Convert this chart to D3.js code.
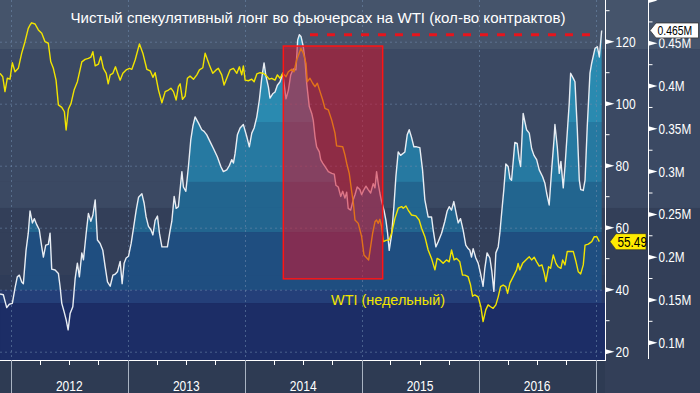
<!DOCTYPE html>
<html><head><meta charset="utf-8">
<script src="https://cdn.jsdelivr.net/npm/d3@7"></script>
<style>html,body{margin:0;padding:0;background:#2e3b53;}svg{display:block}</style>
</head><body><svg id="c" width="700" height="393"></svg>
<script>
// ---------- data ----------
const title = "Чистый спекулятивный лонг во фьючерсах на WTI (кол-во контрактов)";
const seriesLabel = "WTI (недельный)";
const years = [2012, 2013, 2014, 2015, 2016];
const wtiTicks = [20, 40, 60, 80, 100, 120];
const wtiMinor = [30, 50, 70, 90, 110, 130];
const posTicks = [0.1, 0.15, 0.2, 0.25, 0.3, 0.35, 0.4, 0.45, 0.5];
const posMinor = [0.125, 0.175, 0.225, 0.275, 0.325, 0.375, 0.425, 0.475];

// WTI weekly price (decimal-year dates)
const wtiT = [2011.909,2011.932,2011.951,2011.971,2011.994,2012.014,2012.037,2012.065,2012.094,2012.122,2012.150,2012.165,2012.179,2012.208,2012.236,2012.265,2012.293,2012.321,2012.342,2012.364,2012.387,2012.407,2012.436,2012.458,2012.473,2012.492,2012.515,2012.541,2012.569,2012.607,2012.635,2012.663,2012.684,2012.701,2012.721,2012.749,2012.769,2012.791,2012.815,2012.832,2012.849,2012.872,2012.894,2012.911,2012.934,2012.957,2012.985,2013.014,2013.034,2013.062,2013.099,2013.128,2013.162,2013.191,2013.214,2013.233,2013.262,2013.291,2013.319,2013.347,2013.368,2013.390,2013.413,2013.432,2013.447,2013.467,2013.490,2013.509,2013.532,2013.561,2013.590,2013.612,2013.641,2013.661,2013.697,2013.726,2013.755,2013.774,2013.803,2013.823,2013.851,2013.874,2013.903,2013.932,2013.954,2013.974,2013.988,2014.003,2014.031,2014.060,2014.080,2014.103,2014.131,2014.159,2014.188,2014.210,2014.231,2014.259,2014.279,2014.302,2014.325,2014.353,2014.373,2014.402,2014.421,2014.444,2014.481,2014.501,2014.524,2014.535,2014.558,2014.581,2014.601,2014.621,2014.644,2014.667,2014.686,2014.715,2014.744,2014.772,2014.786,2014.838,2014.857,2014.872,2014.894,2014.915,2014.928,2014.943,2014.971,2015.000,2015.020,2015.060,2015.077,2015.094,2015.114,2015.128,2015.142,2015.156,2015.171,2015.185,2015.214,2015.236,2015.256,2015.285,2015.313,2015.342,2015.356,2015.379,2015.398,2015.427,2015.464,2015.492,2015.513,2015.541,2015.569,2015.598,2015.627,2015.646,2015.669,2015.697,2015.726,2015.749,2015.769,2015.791,2015.812,2015.840,2015.863,2015.883,2015.911,2015.932,2015.949,2015.968,2015.997,2016.020,2016.039,2016.062,2016.082,2016.103,2016.125,2016.148,2016.168,2016.188,2016.210,2016.233,2016.248,2016.268,2016.296,2016.325,2016.338,2016.352,2016.376,2016.404,2016.433,2016.453,2016.475,2016.496,2016.518,2016.541,2016.561,2016.575,2016.598,2016.615,2016.638,2016.661,2016.680,2016.703,2016.718,2016.738,2016.757,2016.786,2016.809,2016.832,2016.851,2016.872,2016.894,2016.909,2016.937,2016.966,2016.988,2017.009,2017.031];
const wti = [109.8,108.7,103.9,108.2,107.9,113.2,110.3,111.4,116.3,120,124.3,125.4,126.1,125.7,123.8,122.7,120,119.5,113.5,111.4,107.6,99.6,98.8,97.4,91.5,98.2,100.1,104.4,107.1,113.5,114.3,114.6,115,116.8,112.2,112.8,115.2,111.4,109.8,106.4,109.3,109.8,111.9,110,107.6,109.8,110.9,111.4,111.1,114.1,119.3,116.3,111.1,110.6,108.5,110,104.4,100.3,103.9,104.4,105,103.9,101.2,105.5,106.4,101.4,102.5,108.2,108.9,107.9,109.3,110.9,111.6,116.3,112.5,109.8,110.9,111.4,109.3,106,108.7,110.9,111.4,109.8,111.9,109.3,112.2,107.6,107.4,107.9,107.1,109.6,110,109.8,108.9,107.9,108.2,107.6,109.3,108.2,109.8,108.7,110.3,111.1,110.3,114.1,117.9,116.3,113,107.1,108.2,106.6,105.5,106.6,103.9,101.2,98.5,98,94.7,90.5,86.4,86.1,83.5,80.8,77.5,71.6,68.4,62.5,61.4,57.1,51.2,49.6,53.9,58.2,61.9,62.5,61.4,62.7,60.3,55.5,56,56,58.2,63,66.3,66.8,66.3,67,65.7,64.1,63.8,62.5,59.8,57.1,52.8,50.1,46.4,50.1,49.6,48.5,49.6,49,52.8,49.6,50.1,49,44.7,44.7,44.2,41.5,37.9,38.3,37.7,34.5,29.7,33.5,35.1,34.5,34,35.1,37.7,41,41.5,41,38.8,42.1,44.2,46.4,48.5,46.4,48.5,49.6,50.6,49.6,50.5,49,47.6,48,45.3,42.6,47.4,46.9,51.2,48.5,47.4,46.9,49.6,48,52.3,52.3,52.3,49,45.8,45.1,48,54.4,54.7,55.5,57.1,57.1,55.49];

// Net speculative long, millions of contracts
const posT = [2011.909,2011.937,2011.966,2011.988,2012.014,2012.037,2012.056,2012.074,2012.094,2012.108,2012.131,2012.150,2012.165,2012.185,2012.202,2012.222,2012.244,2012.265,2012.279,2012.299,2012.321,2012.336,2012.350,2012.379,2012.407,2012.421,2012.436,2012.456,2012.473,2012.490,2012.507,2012.530,2012.550,2012.569,2012.586,2012.607,2012.621,2012.644,2012.663,2012.684,2012.701,2012.721,2012.740,2012.763,2012.786,2012.806,2012.826,2012.849,2012.872,2012.891,2012.911,2012.934,2012.951,2012.968,2012.985,2013.005,2013.028,2013.048,2013.071,2013.091,2013.120,2013.139,2013.156,2013.176,2013.197,2013.214,2013.233,2013.253,2013.270,2013.291,2013.319,2013.338,2013.362,2013.376,2013.396,2013.413,2013.432,2013.462,2013.475,2013.496,2013.518,2013.538,2013.556,2013.575,2013.603,2013.632,2013.652,2013.675,2013.703,2013.732,2013.766,2013.795,2013.817,2013.846,2013.868,2013.889,2013.903,2013.917,2013.937,2013.960,2013.988,2014.017,2014.039,2014.060,2014.080,2014.103,2014.125,2014.145,2014.165,2014.182,2014.202,2014.216,2014.239,2014.259,2014.279,2014.302,2014.325,2014.338,2014.353,2014.373,2014.393,2014.415,2014.438,2014.453,2014.467,2014.481,2014.501,2014.515,2014.530,2014.552,2014.573,2014.586,2014.601,2014.615,2014.638,2014.650,2014.667,2014.686,2014.715,2014.744,2014.766,2014.780,2014.800,2014.821,2014.838,2014.857,2014.872,2014.885,2014.906,2014.928,2014.943,2014.962,2014.985,2015.000,2015.020,2015.037,2015.056,2015.077,2015.099,2015.114,2015.128,2015.142,2015.156,2015.171,2015.191,2015.208,2015.222,2015.236,2015.256,2015.276,2015.293,2015.313,2015.333,2015.370,2015.390,2015.407,2015.427,2015.447,2015.470,2015.498,2015.521,2015.541,2015.569,2015.598,2015.612,2015.635,2015.655,2015.684,2015.712,2015.732,2015.749,2015.769,2015.789,2015.812,2015.826,2015.846,2015.868,2015.891,2015.911,2015.926,2015.940,2015.954,2015.977,2015.997,2016.017,2016.039,2016.054,2016.073,2016.097,2016.114,2016.131,2016.148,2016.168,2016.182,2016.197,2016.216,2016.233,2016.253,2016.268,2016.282,2016.310,2016.330,2016.347,2016.359,2016.381,2016.396,2016.410,2016.433,2016.453,2016.473,2016.496,2016.518,2016.547,2016.567,2016.581,2016.603,2016.624,2016.644,2016.652,2016.672,2016.689,2016.703,2016.723,2016.738,2016.752,2016.774,2016.786,2016.809,2016.823,2016.843,2016.860,2016.872,2016.894,2016.909,2016.928,2016.951,2016.966,2016.994,2017.014,2017.031,2017.051];
const pos = [0.157,0.156,0.141,0.145,0.146,0.164,0.177,0.179,0.171,0.169,0.208,0.228,0.254,0.240,0.245,0.238,0.232,0.212,0.200,0.214,0.215,0.228,0.186,0.185,0.181,0.166,0.146,0.136,0.127,0.115,0.134,0.142,0.175,0.193,0.177,0.205,0.197,0.228,0.251,0.242,0.249,0.267,0.220,0.216,0.208,0.189,0.171,0.166,0.179,0.180,0.183,0.195,0.169,0.193,0.199,0.201,0.216,0.234,0.255,0.270,0.274,0.263,0.247,0.236,0.232,0.226,0.243,0.248,0.228,0.212,0.212,0.212,0.232,0.242,0.271,0.257,0.259,0.300,0.282,0.277,0.306,0.337,0.353,0.364,0.357,0.349,0.347,0.343,0.335,0.327,0.317,0.306,0.300,0.302,0.307,0.314,0.310,0.321,0.343,0.351,0.355,0.341,0.329,0.345,0.351,0.364,0.384,0.409,0.427,0.411,0.399,0.386,0.391,0.393,0.401,0.405,0.415,0.401,0.385,0.395,0.413,0.420,0.419,0.454,0.460,0.458,0.446,0.431,0.403,0.376,0.368,0.360,0.341,0.329,0.323,0.314,0.310,0.306,0.300,0.298,0.297,0.284,0.282,0.271,0.277,0.269,0.276,0.257,0.255,0.267,0.273,0.282,0.279,0.273,0.279,0.283,0.279,0.275,0.286,0.281,0.300,0.286,0.275,0.265,0.255,0.243,0.228,0.208,0.226,0.259,0.294,0.323,0.319,0.323,0.343,0.349,0.340,0.329,0.329,0.328,0.302,0.267,0.247,0.247,0.232,0.212,0.218,0.228,0.242,0.254,0.259,0.255,0.265,0.249,0.240,0.245,0.232,0.214,0.210,0.208,0.200,0.210,0.199,0.193,0.181,0.166,0.187,0.205,0.199,0.183,0.160,0.205,0.212,0.228,0.251,0.279,0.309,0.306,0.292,0.290,0.334,0.333,0.314,0.306,0.368,0.358,0.349,0.345,0.327,0.319,0.314,0.302,0.294,0.286,0.275,0.261,0.302,0.337,0.355,0.329,0.298,0.312,0.281,0.306,0.335,0.380,0.415,0.409,0.405,0.349,0.290,0.279,0.278,0.290,0.353,0.415,0.427,0.444,0.446,0.434,0.465];

// annotations
const hlStart = 2014.33, hlEnd = 2015.18, hlLow = 43.5, hlHigh = 118.6;   // highlighted period (WTI units)
const prevPeak = 0.460, peakFrom = 2014.558, peakTo = 2016.951;           // 2014 high of positions
const lastPos = 0.465, lastWti = 55.49;
const labelAt = [2014.738, 35.06];

// ---------- helpers / scales ----------
function yd(t){const y=Math.floor(t);const a=Date.UTC(y,0,1),b=Date.UTC(y+1,0,1);return new Date(a+(t-y)*(b-a));}
const PR = 605, PB = 360, LAX = 605.5, RAX = 648.5;
const x = d3.scaleUtc().domain([yd(2011.9085), yd(2017.0795)]).range([0, PR]);
const yL = d3.scaleLinear().domain([20, 120]).range([351.7, 41.7]);
const yR = d3.scaleLinear().domain([0.1, 0.45]).range([342.7, 43.3]);

// background bands (edges in position units) : [bg colour, area colour]
const bandEdges = [0.52, 0.4433, 0.358, 0.2879, 0.2575, 0.2294, 0.1791, 0.1616, 0.1464, 0.05];
const bandCols = [["#45546b","#2f92b8"],["#3b4963","#2a8ab0"],["#3b4963","#2679a1"],["#3b4963","#22658f"],
                  ["#333f59","#22658f"],["#333f59","#1f4e80"],["#2f3c58","#1f4e80"],["#28396a","#243f79"],["#1c2d66","#1c2d66"]];

const svg = d3.select("#c");
const FONT = "'Liberation Sans',Arial,sans-serif";
// condense a text selection horizontally to mimic the narrow terminal font
function condense(sel, k){ sel.each(function(){ const w=this.getComputedTextLength(); d3.select(this).attr("textLength", w*k).attr("lengthAdjust","spacingAndGlyphs"); }); }

// full background
svg.append("rect").attr("width",700).attr("height",393).attr("fill","#333f58");
svg.append("rect").attr("x",0).attr("y",0).attr("width",700).attr("height",Math.max(0,yR(0.4433))).attr("fill","#45546b");
svg.append("rect").attr("x",0).attr("y",yR(0.4433)).attr("width",700).attr("height",yR(0.2575)-yR(0.4433)).attr("fill","#3b4963");
svg.append("rect").attr("x",0).attr("y",PB).attr("width",PR).attr("height",393-PB).attr("fill","#2e3b53");

const bands = bandCols.map((c,i)=>({y0:Math.max(0,yR(bandEdges[i])), y1:Math.min(PB,yR(bandEdges[i+1])), bg:c[0], area:c[1]}));
svg.append("g").selectAll("rect").data(bands).join("rect")
  .attr("x",0).attr("width",PR).attr("y",d=>d.y0).attr("height",d=>d.y1-d.y0).attr("fill",d=>d.bg);

// area clip
const posData = posT.map((t,i)=>({d:yd(t), v:pos[i]}));
const wtiData = wtiT.map((t,i)=>({d:yd(t), v:wti[i]}));
const area = d3.area().x(d=>x(d.d)).y0(PB).y1(d=>yR(d.v));
svg.append("clipPath").attr("id","ac").append("path").attr("d",area(posData));
svg.append("g").attr("clip-path","url(#ac)").selectAll("rect").data(bands).join("rect")
  .attr("x",0).attr("width",PR).attr("y",d=>d.y0).attr("height",d=>d.y1-d.y0).attr("fill",d=>d.area);

// grid
const grid = svg.append("g").attr("stroke","#6f8aad").attr("stroke-opacity",0.55).attr("stroke-dasharray","2,3");
grid.selectAll("line.h").data(wtiTicks).join("line").attr("x1",0).attr("x2",PR).attr("y1",d=>yL(d)+0.5).attr("y2",d=>yL(d)+0.5);
const yearStarts = years.concat([2017]).map(y=>new Date(Date.UTC(y,0,1)));
grid.selectAll("line.v").data(yearStarts).join("line").attr("x1",d=>Math.round(x(d))+0.5).attr("x2",d=>Math.round(x(d))+0.5).attr("y1",0).attr("y2",PB);

// lines
svg.append("path").attr("d",d3.line().x(d=>x(d.d)).y(d=>yR(d.v))(posData)).attr("fill","none").attr("stroke","#e8edf3").attr("stroke-width",1.4).attr("stroke-linejoin","round");
svg.append("path").attr("d",d3.line().x(d=>x(d.d)).y(d=>yL(d.v))(wtiData)).attr("fill","none").attr("stroke","#f2e400").attr("stroke-width",1.4).attr("stroke-linejoin","round");

// highlight
svg.append("rect").attr("x",x(yd(hlStart))).attr("y",yL(hlHigh)).attr("width",x(yd(hlEnd))-x(yd(hlStart))).attr("height",yL(hlLow)-yL(hlHigh))
  .attr("fill","rgb(212,20,45)").attr("fill-opacity",0.55).attr("stroke","#ff1414").attr("stroke-width",1.5);

// previous peak dashed
svg.append("line").attr("x1",x(yd(peakFrom))).attr("x2",x(yd(peakTo))).attr("y1",yR(prevPeak)).attr("y2",yR(prevPeak))
  .attr("stroke","#e8141c").attr("stroke-width",3).attr("stroke-dasharray","8,9");

// x axis
svg.append("line").attr("x1",0).attr("x2",PR).attr("y1",PB+0.5).attr("y2",PB+0.5).attr("stroke","#fff");
const quarters = d3.utcMonth.every(3).range(x.domain()[0], x.domain()[1]).filter(d=>d.getUTCMonth()!==0);
svg.append("g").selectAll("line").data(quarters).join("line")
  .attr("x1",d=>Math.round(x(d))+0.5).attr("x2",d=>Math.round(x(d))+0.5).attr("y1",PB).attr("y2",PB+5).attr("stroke","#fff");
svg.append("g").selectAll("line").data(yearStarts).join("line")
  .attr("x1",d=>Math.round(x(d))+0.5).attr("x2",d=>Math.round(x(d))+0.5).attr("y1",PB).attr("y2",393).attr("stroke","#a9b3c2");
svg.append("g").selectAll("text").data(years).join("text")
  .attr("x",d=>x(yd(d+0.5))).attr("y",390.5).attr("text-anchor","middle").attr("fill","#fff")
  .attr("font-family",FONT).attr("font-size",14).text(d=>d).call(condense,0.86);

// left axis (WTI)
svg.append("line").attr("x1",LAX).attr("x2",LAX).attr("y1",0).attr("y2",PB+1).attr("stroke","#fff");
svg.append("g").selectAll("line").data(wtiMinor).join("line")
  .attr("x1",LAX).attr("x2",LAX+4).attr("y1",d=>yL(d)).attr("y2",d=>yL(d)).attr("stroke","#fff");
svg.append("g").selectAll("path").data(wtiTicks).join("path")
  .attr("d",d=>`M${LAX},${yL(d)-2.5}L${LAX+9},${yL(d)}L${LAX},${yL(d)+2.5}Z`).attr("fill","#fff");
svg.append("g").selectAll("text").data(wtiTicks).join("text")
  .attr("x",LAX+10).attr("y",d=>yL(d)).attr("dy","0.36em").attr("fill","#fff")
  .attr("font-family",FONT).attr("font-size",14).text(d=>d).call(condense,0.86);

// right axis (positions)
svg.append("line").attr("x1",RAX).attr("x2",RAX).attr("y1",0).attr("y2",PB-1).attr("stroke","#fff");
svg.append("g").selectAll("line").data(posMinor).join("line")
  .attr("x1",RAX).attr("x2",RAX+4).attr("y1",d=>yR(d)).attr("y2",d=>yR(d)).attr("stroke","#fff");
svg.append("g").selectAll("path").data(posTicks).join("path")
  .attr("d",d=>`M${RAX},${yR(d)-2.5}L${RAX+9},${yR(d)}L${RAX},${yR(d)+2.5}Z`).attr("fill","#fff");
svg.append("g").selectAll("text").data(posTicks.filter(d=>yR(d)>8)).join("text")
  .attr("x",RAX+10).attr("y",d=>yR(d)).attr("dy","0.36em").attr("fill","#fff")
  .attr("font-family",FONT).attr("font-size",14).text(d=>d+"M").call(condense,0.84);

// last-value labels
const ly = yR(lastPos);
svg.append("path").attr("d",`M${RAX+1.5},${ly}L${RAX+7.5},${ly-7.5}H698.5V${ly+7.5}H${RAX+7.5}Z`).attr("fill","#fff").attr("stroke","#333").attr("stroke-width",0.8);
svg.append("text").attr("x",RAX+9).attr("y",ly).attr("dy","0.36em").attr("fill","#000").attr("font-family",FONT).attr("font-size",13).text(lastPos+"M").call(condense,0.8);
const wy = yL(lastWti);
svg.append("path").attr("d",`M${LAX+4.5},${wy}L${LAX+10.5},${wy-8}H646V${wy+8}H${LAX+10.5}Z`).attr("fill","#ffec00").attr("stroke","#2a2a2a").attr("stroke-width",0.6);
svg.append("text").attr("x",LAX+12).attr("y",wy).attr("dy","0.36em").attr("fill","#000").attr("font-family",FONT).attr("font-size",14).text(lastWti).call(condense,0.84);

// texts
svg.append("text").attr("x",70.5).attr("y",23).attr("fill","#fff").attr("font-family",FONT)
  .attr("font-size",14).attr("textLength",495).attr("lengthAdjust","spacingAndGlyphs").text(title);
svg.append("text").attr("x",x(yd(labelAt[0]))).attr("y",yL(labelAt[1])).attr("fill","#f2e400").attr("font-family",FONT)
  .attr("font-size",14).attr("textLength",114).attr("lengthAdjust","spacingAndGlyphs").text(seriesLabel);
</script></body></html>
